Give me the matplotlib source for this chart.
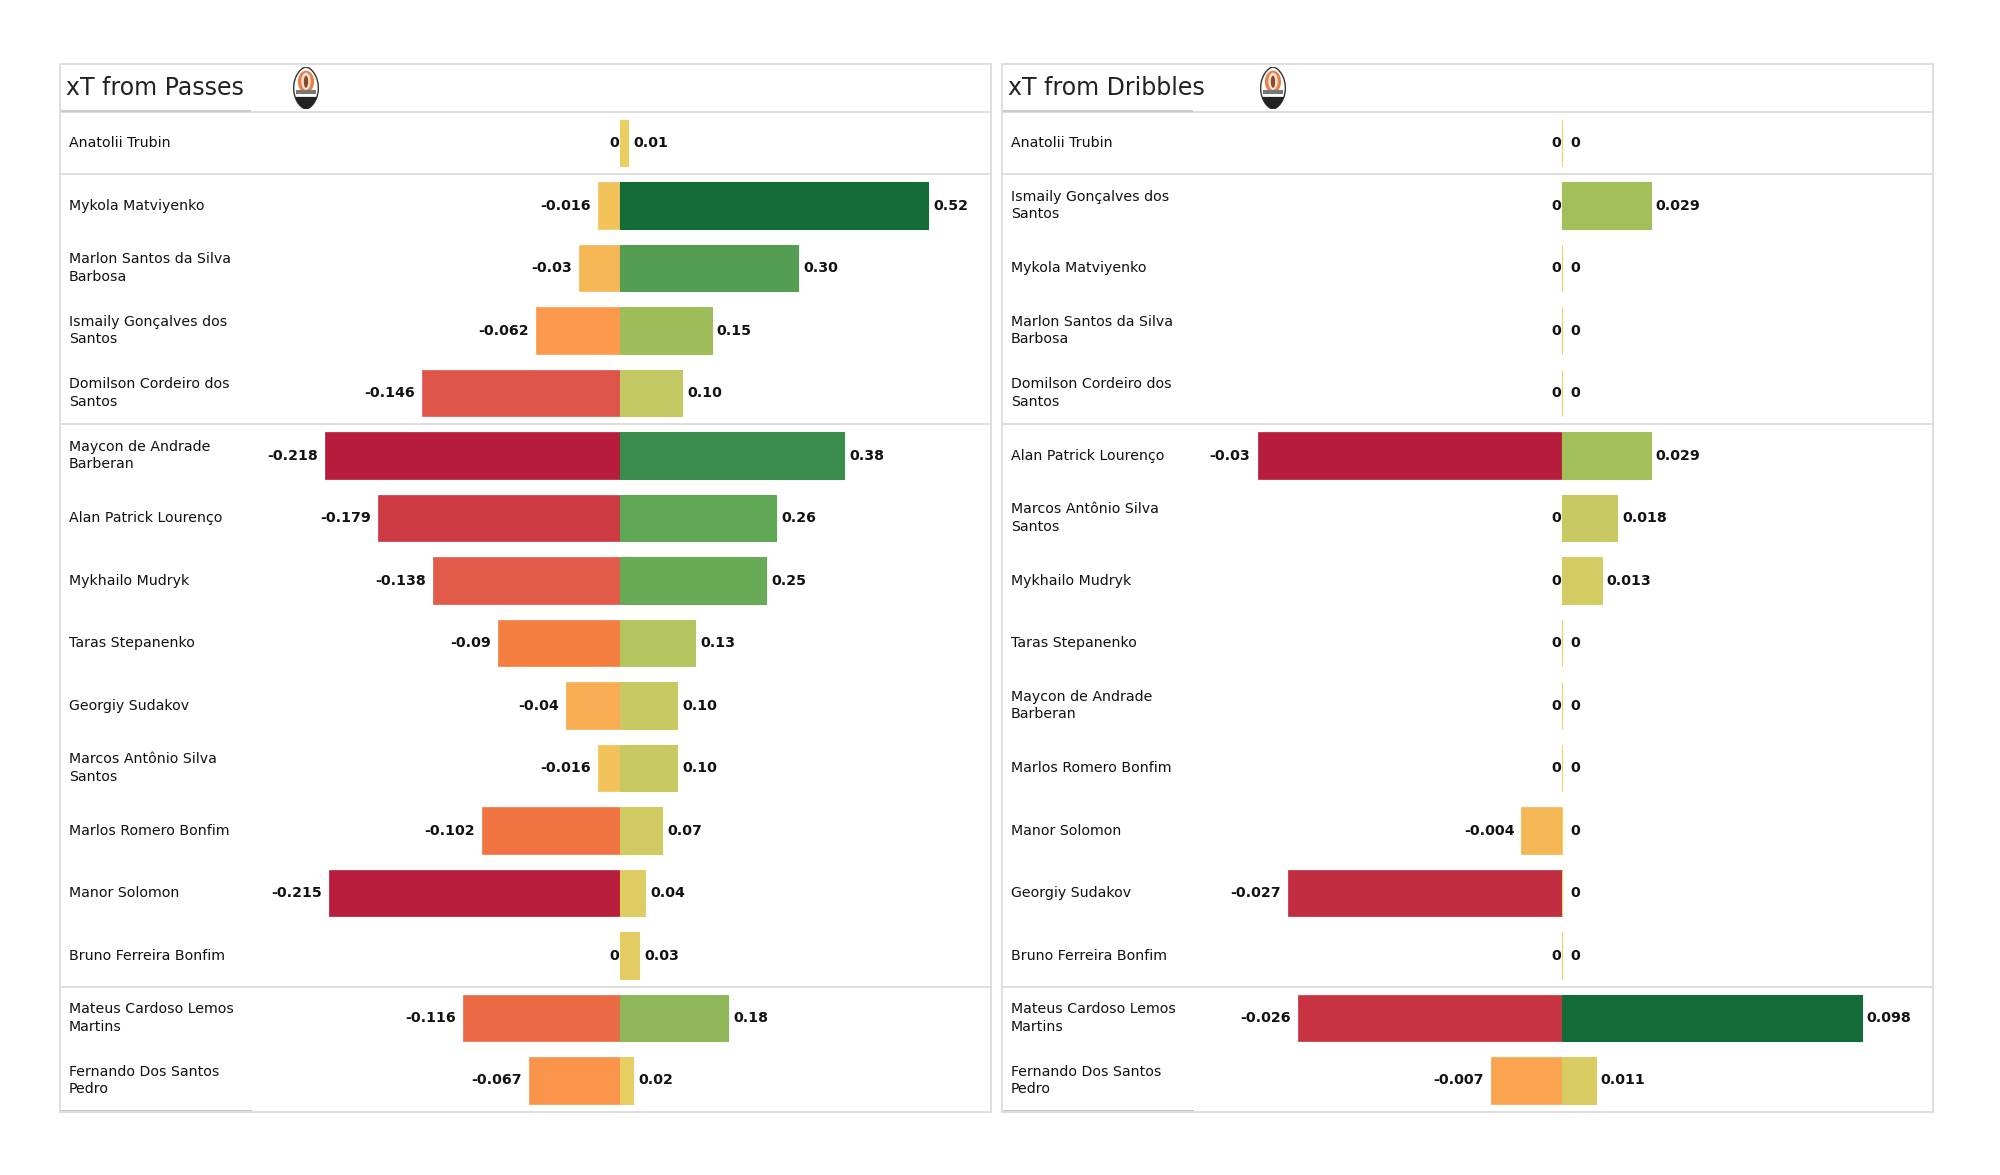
import numpy as np
import matplotlib
matplotlib.use("Agg")
import matplotlib.pyplot as plt
from matplotlib.colors import LinearSegmentedColormap
from matplotlib.patches import Ellipse, Polygon, Rectangle

# passes panel
pass_names = ["Anatolii Trubin", "Mykola Matviyenko", "Marlon Santos da Silva\nBarbosa",
              "Ismaily Gonçalves dos\nSantos", "Domilson Cordeiro dos\nSantos",
              "Maycon de Andrade\nBarberan", "Alan Patrick Lourenço", "Mykhailo Mudryk",
              "Taras Stepanenko", "Georgiy Sudakov", "Marcos Antônio Silva\nSantos",
              "Marlos Romero Bonfim", "Manor Solomon", "Bruno Ferreira Bonfim",
              "Mateus Cardoso Lemos\nMartins", "Fernando Dos Santos\nPedro"]
pass_pos = [0.014, 0.52, 0.301, 0.155, 0.105, 0.378, 0.264, 0.247, 0.127, 0.097, 0.097,
            0.071, 0.043, 0.032, 0.183, 0.022]
pass_neg = [0, -0.016, -0.03, -0.062, -0.146, -0.218, -0.179, -0.138, -0.09, -0.04, -0.016,
            -0.102, -0.215, 0, -0.116, -0.067]

# dribbles panel
drib_names = ["Anatolii Trubin", "Ismaily Gonçalves dos\nSantos", "Mykola Matviyenko",
              "Marlon Santos da Silva\nBarbosa", "Domilson Cordeiro dos\nSantos",
              "Alan Patrick Lourenço", "Marcos Antônio Silva\nSantos", "Mykhailo Mudryk",
              "Taras Stepanenko", "Maycon de Andrade\nBarberan", "Marlos Romero Bonfim",
              "Manor Solomon", "Georgiy Sudakov", "Bruno Ferreira Bonfim",
              "Mateus Cardoso Lemos\nMartins", "Fernando Dos Santos\nPedro"]
drib_pos = [0, 0.029, 0, 0, 0, 0.029, 0.018, 0.013, 0, 0, 0, 0, 0, 0, 0.098, 0.011]
drib_neg = [0, 0, 0, 0, 0, -0.03, 0, 0, 0, 0, 0, -0.004, -0.027, 0, -0.026, -0.007]

separators = [-0.5, 0.5, 4.5, 13.5]

W, H = 2000, 1175
cmap = LinearSegmentedColormap.from_list("xt", [
    (0.0, "#b71c3c"), (0.17, "#e0574a"), (0.30, "#f58040"), (0.36, "#fd9a4e"),
    (0.43, "#f5b655"), (0.5, "#f0cf62"), (0.6, "#c5c963"), (0.65, "#a0be5b"),
    (0.75, "#60a755"), (0.87, "#3a8c4e"), (1.0, "#136b38")])


def draw_logo(x, y):
    w, h = 26, 42
    lg = fig.add_axes([(x - w / 2) / W, 1 - (y + h / 2) / H, w / W, h / H])
    lg.set_xlim(-1, 1)
    lg.set_ylim(-1, 1)
    lg.axis("off")
    t = np.linspace(-1, 1, 60)
    half = 0.95 * (1 - t ** 2) ** 0.62
    outline = np.r_[np.c_[half, t], np.c_[-half[::-1], t[::-1]]]
    lg.add_patch(Polygon(outline, closed=True, fc="white", ec="#333333", lw=1.0))
    lg.add_patch(Ellipse((0, 0.3), 1.25, 1.05, fc="#e9824a", ec="none"))
    lg.add_patch(Ellipse((0, 0.32), 0.72, 0.82, fc="#f9e6d6", ec="none"))
    lg.add_patch(Ellipse((0, 0.3), 0.34, 0.58, fc="#8a4a2a", ec="none"))
    lg.add_patch(Rectangle((-0.8, -0.3), 1.6, 0.2, fc="#777777", ec="none"))
    low = outline[outline[:, 1] < -0.42]
    lg.add_patch(Polygon(low, closed=True, fc="#222222", ec="none"))


def draw_panel(left, zero_px, pos_reach, neg_reach, title, logo_x, names, pos, neg, fmt):
    width = 931
    top, bottom = 64, 1112
    ax = fig.add_axes([left / W, 1 - bottom / H, width / W, (bottom - top) / H])
    ax2 = ax.twiny()

    # negative and positive sides have their own scale, both zero at the same spot
    neg_scale = neg_reach / abs(min(neg))
    pos_scale = pos_reach / max(pos)
    ax.set_xlim(-(zero_px - left) / neg_scale, (left + width - zero_px) / neg_scale)
    ax2.set_xlim(-(zero_px - left) / pos_scale, (left + width - zero_px) / pos_scale)
    ax.set_ylim(15.504, -1.264)
    ax2.set_ylim(15.504, -1.264)

    y = np.arange(len(names))
    neg_cols = [cmap(0.5 + 0.5 * v / abs(min(neg))) for v in neg]
    pos_cols = [cmap(0.5 + 0.5 * v / max(pos)) for v in pos]
    ax.barh(y, neg, height=0.75, color=neg_cols, edgecolor=neg_cols, linewidth=0.5)
    ax2.barh(y, pos, height=0.75, color=pos_cols, edgecolor=pos_cols, linewidth=0.8)

    for i in range(len(names)):
        ax.annotate(names[i], (0, i), xycoords=ax.get_yaxis_transform(), xytext=(9, 0),
                    textcoords="offset pixels", ha="left", va="center", fontsize=10.2,
                    linespacing=1.32, color="#111111")
        if neg[i] == 0:
            nlab = "0"
            off = -1
        else:
            nlab = "%g" % neg[i]
            off = -7
        plab = "0" if pos[i] == 0 else fmt % pos[i]
        ax.annotate(nlab, (neg[i], i), xytext=(off, 0), textcoords="offset pixels", ha="right",
                    va="center", fontsize=10.2, fontweight="bold", color="#111111")
        ax2.annotate(plab, (pos[i], i), xytext=(5 if pos[i] else 8, 0), textcoords="offset pixels",
                     ha="left", va="center", fontsize=10.2, fontweight="bold", color="#111111")

    for s in separators:
        ax.axhline(s, color="#dedede", lw=1.4)
    for a in [ax, ax2]:
        a.set_xticks([])
        a.set_yticks([])
        for sp in a.spines.values():
            sp.set_color("#dedede")
            sp.set_linewidth(1.2)
    # slightly heavier rule under the title and along the bottom, only at the name column
    ax.plot([0, 190 / width], [0.9555, 0.9555], transform=ax.transAxes, color="#cccccc", lw=1.5)
    ax.plot([0, 190 / width], [0.001, 0.001], transform=ax.transAxes, color="#c8c8c8", lw=2.2,
            clip_on=False)
    ax.text(6 / width, 0.9775, title, transform=ax.transAxes, ha="left", va="center",
            fontsize=17, color="#222222")
    draw_logo(logo_x, 88)


fig = plt.figure(figsize=(20, 11.75), dpi=100)
draw_panel(60, 620, 308, 295, "xT from Passes", 306, pass_names, pass_pos, pass_neg, "%.2f")
draw_panel(1002, 1562, 299.5, 304.5, "xT from Dribbles", 1273, drib_names, drib_pos, drib_neg, "%.3g")
fig.savefig("out.png", dpi=100)
